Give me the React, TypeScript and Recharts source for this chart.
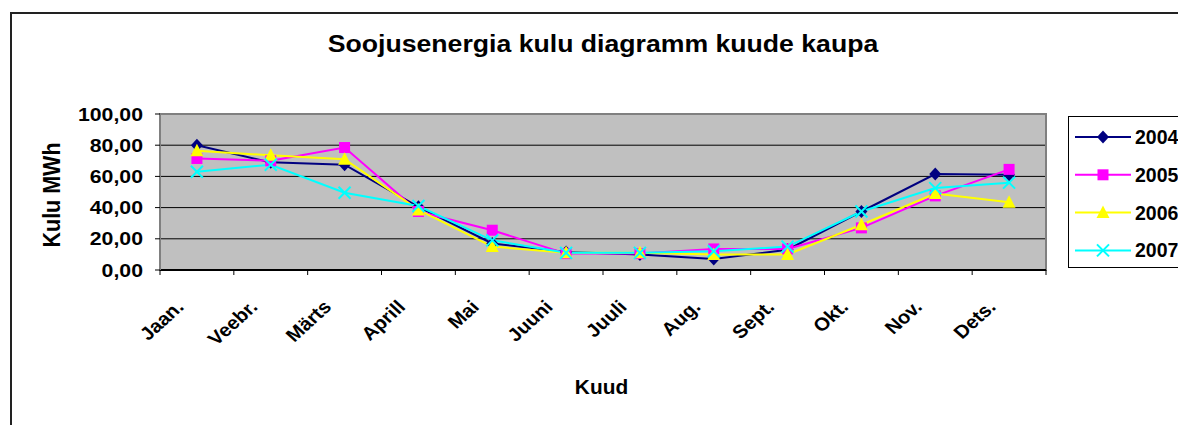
import React from 'react';
import { LineChart, Line, XAxis, YAxis, CartesianGrid, ReferenceArea, Legend } from 'recharts';

const months = ['Jaan.', 'Veebr.', 'Märts', 'Aprill', 'Mai', 'Juuni', 'Juuli', 'Aug.', 'Sept.', 'Okt.', 'Nov.', 'Dets.'];
const y2004 = [80, 69, 67.5, 40.5, 17, 11.5, 10, 7, 13, 37.5, 61.5, 61];
const y2005 = [71.5, 70, 78.5, 37.5, 25.5, 10.5, 10.5, 13.5, 13.5, 27, 47.5, 64.5];
const y2006 = [76.5, 73.5, 71, 38.5, 15, 11, 11, 10, 10, 29, 49, 43.5];
const y2007 = [63, 67.5, 49.5, 41, 19, 11, 11, 12, 15, 37.5, 52.5, 56];
const yTicks = [0, 20, 40, 60, 80, 100];

const title = 'Soojusenergia kulu diagramm kuude kaupa';
const xTitle = 'Kuud';
const yTitle = 'Kulu MWh';

const data = months.map((m, i) => ({
  month: m,
  '2004': y2004[i],
  '2005': y2005[i],
  '2006': y2006[i],
  '2007': y2007[i],
}));

type Shape = 'diamond' | 'square' | 'triangle' | 'x';
const series: { key: string; color: string; shape: Shape }[] = [
  { key: '2004', color: '#000080', shape: 'diamond' },
  { key: '2005', color: '#FF00FF', shape: 'square' },
  { key: '2006', color: '#FFFF00', shape: 'triangle' },
  { key: '2007', color: '#00FFFF', shape: 'x' },
];

const FONT = '"Liberation Sans", Arial, sans-serif';
const W = 1178;
const H = 417;

function marker(shape: Shape, color: string, cx: number, cy: number, key?: string) {
  if (shape === 'diamond') {
    return <polygon key={key} points={`${cx},${cy - 6.5} ${cx + 6},${cy} ${cx},${cy + 6.5} ${cx - 6},${cy}`} fill={color} />;
  }
  if (shape === 'square') {
    return <rect key={key} x={cx - 5.5} y={cy - 5.5} width={11} height={11} fill={color} />;
  }
  if (shape === 'triangle') {
    return <polygon key={key} points={`${cx},${cy - 7} ${cx + 6.5},${cy + 5.5} ${cx - 6.5},${cy + 5.5}`} fill={color} />;
  }
  return (
    <g key={key}>
      <line x1={cx - 6} y1={cy - 6} x2={cx + 6} y2={cy + 6} stroke={color} strokeWidth={2} />
      <line x1={cx - 6} y1={cy + 6} x2={cx + 6} y2={cy - 6} stroke={color} strokeWidth={2} />
    </g>
  );
}

const fmt = (v: number) => v.toFixed(2).replace('.', ',');

const YTick = (props: any) => {
  const { x, y, payload } = props;
  return (
    <g transform={`translate(${x},${y})`}>
      <text transform="scale(1.15,1)" textAnchor="end" dy="0.355em" fontSize={18.5} fontWeight="bold" fill="#000" fontFamily={FONT}>
        {fmt(payload.value)}
      </text>
    </g>
  );
};

const XTick = (props: any) => {
  const { x, y, payload, index } = props;
  const off = payload && typeof payload.offset === 'number' ? payload.offset : 0;
  return (
    <g>
      <line x1={x - off} y1={y} x2={x - off} y2={y + 5} stroke="#000" strokeWidth={1} />
      {index === months.length - 1 && (
        <line x1={x + off} y1={y} x2={x + off} y2={y + 5} stroke="#000" strokeWidth={1} />
      )}
      <g transform={`translate(${x - 12},${y + 38}) scale(1.1,1) rotate(-45)`}>
        <text textAnchor="end" fontSize={18.5} fontWeight="bold" fill="#000" fontFamily={FONT}>
          {payload.value}
        </text>
      </g>
    </g>
  );
};

const LegendContent = () => (
  <div style={{ width: 200, height: 152, border: '1px solid #000', background: '#fff', boxSizing: 'border-box' }}>
    <svg width={200} height={150}>
      {series.map((s, i) => {
        const cy = 20 + i * 37.8;
        return (
          <g key={s.key}>
            <line x1={6} y1={cy} x2={62} y2={cy} stroke={s.color} strokeWidth={2} />
            {marker(s.shape, s.color, 34, cy)}
            <text x={66} y={cy + 7} fontSize={19.5} fontWeight="bold" fill="#000" fontFamily={FONT}>{s.key}</text>
          </g>
        );
      })}
    </svg>
  </div>
);

export default function App() {
  return (
    <div style={{ position: 'relative', width: W, height: H, overflow: 'hidden', fontFamily: FONT, background: '#fff' }}>
      <style>{'html,body{overflow:hidden;}'}</style>
      <div style={{ position: 'absolute', left: 2, top: 4, width: 2000, height: 2000, border: '2px solid #222', boxSizing: 'border-box' }} />
      <div style={{ position: 'absolute', left: 0, top: 0 }}>
        <LineChart width={W} height={H} data={data} margin={{ top: 106, right: 140, bottom: 55, left: 52 }}>
          <CartesianGrid vertical={false} stroke="#000" strokeWidth={1} fill="#C0C0C0" fillOpacity={1} />
          <ReferenceArea y1={0} y2={100} fill="none" stroke="#808080" strokeWidth={2} />
          <XAxis
            dataKey="month"
            scale="band"
            interval={0}
            height={100}
            tickLine={false}
            tickSize={0}
            tickMargin={0}
            axisLine={{ stroke: '#000', strokeWidth: 2 }}
            tick={<XTick />}
          />
          <YAxis
            domain={[0, 100]}
            ticks={yTicks}
            width={100}
            tickSize={5}
            tickMargin={12}
            tickLine={{ stroke: '#000' }}
            axisLine={{ stroke: '#808080', strokeWidth: 2 }}
            tick={<YTick />}
          />
          {series.map((s) => (
            <Line
              key={s.key}
              dataKey={s.key}
              type="linear"
              stroke={s.color}
              strokeWidth={2}
              isAnimationActive={false}
              dot={(p: any) => marker(s.shape, s.color, p.cx, p.cy, `${s.key}-${p.index}`)}
              activeDot={false}
            />
          ))}
          <Legend
            layout="vertical"
            align="center"
            verticalAlign="middle"
            content={<LegendContent />}
            wrapperStyle={{ position: 'absolute', left: 1060, top: 108, width: 200, height: 152 }}
          />
        </LineChart>
      </div>
      <svg width={W} height={H} style={{ position: 'absolute', left: 0, top: 0, pointerEvents: 'none' }}>
        <g transform="translate(595,43.5) scale(1.11,1)">
          <text textAnchor="middle" fontSize={24} fontWeight="bold" fill="#000" fontFamily={FONT}>{title}</text>
        </g>
        <g transform="translate(593.5,386) scale(1.07,1)">
          <text textAnchor="middle" fontSize={19.5} fontWeight="bold" fill="#000" fontFamily={FONT}>{xTitle}</text>
        </g>
        <g transform="translate(52,187) rotate(-90) scale(1,1.1)">
          <text textAnchor="middle" fontSize={21.5} fontWeight="bold" fill="#000" fontFamily={FONT}>{yTitle}</text>
        </g>
      </svg>
    </div>
  );
}
